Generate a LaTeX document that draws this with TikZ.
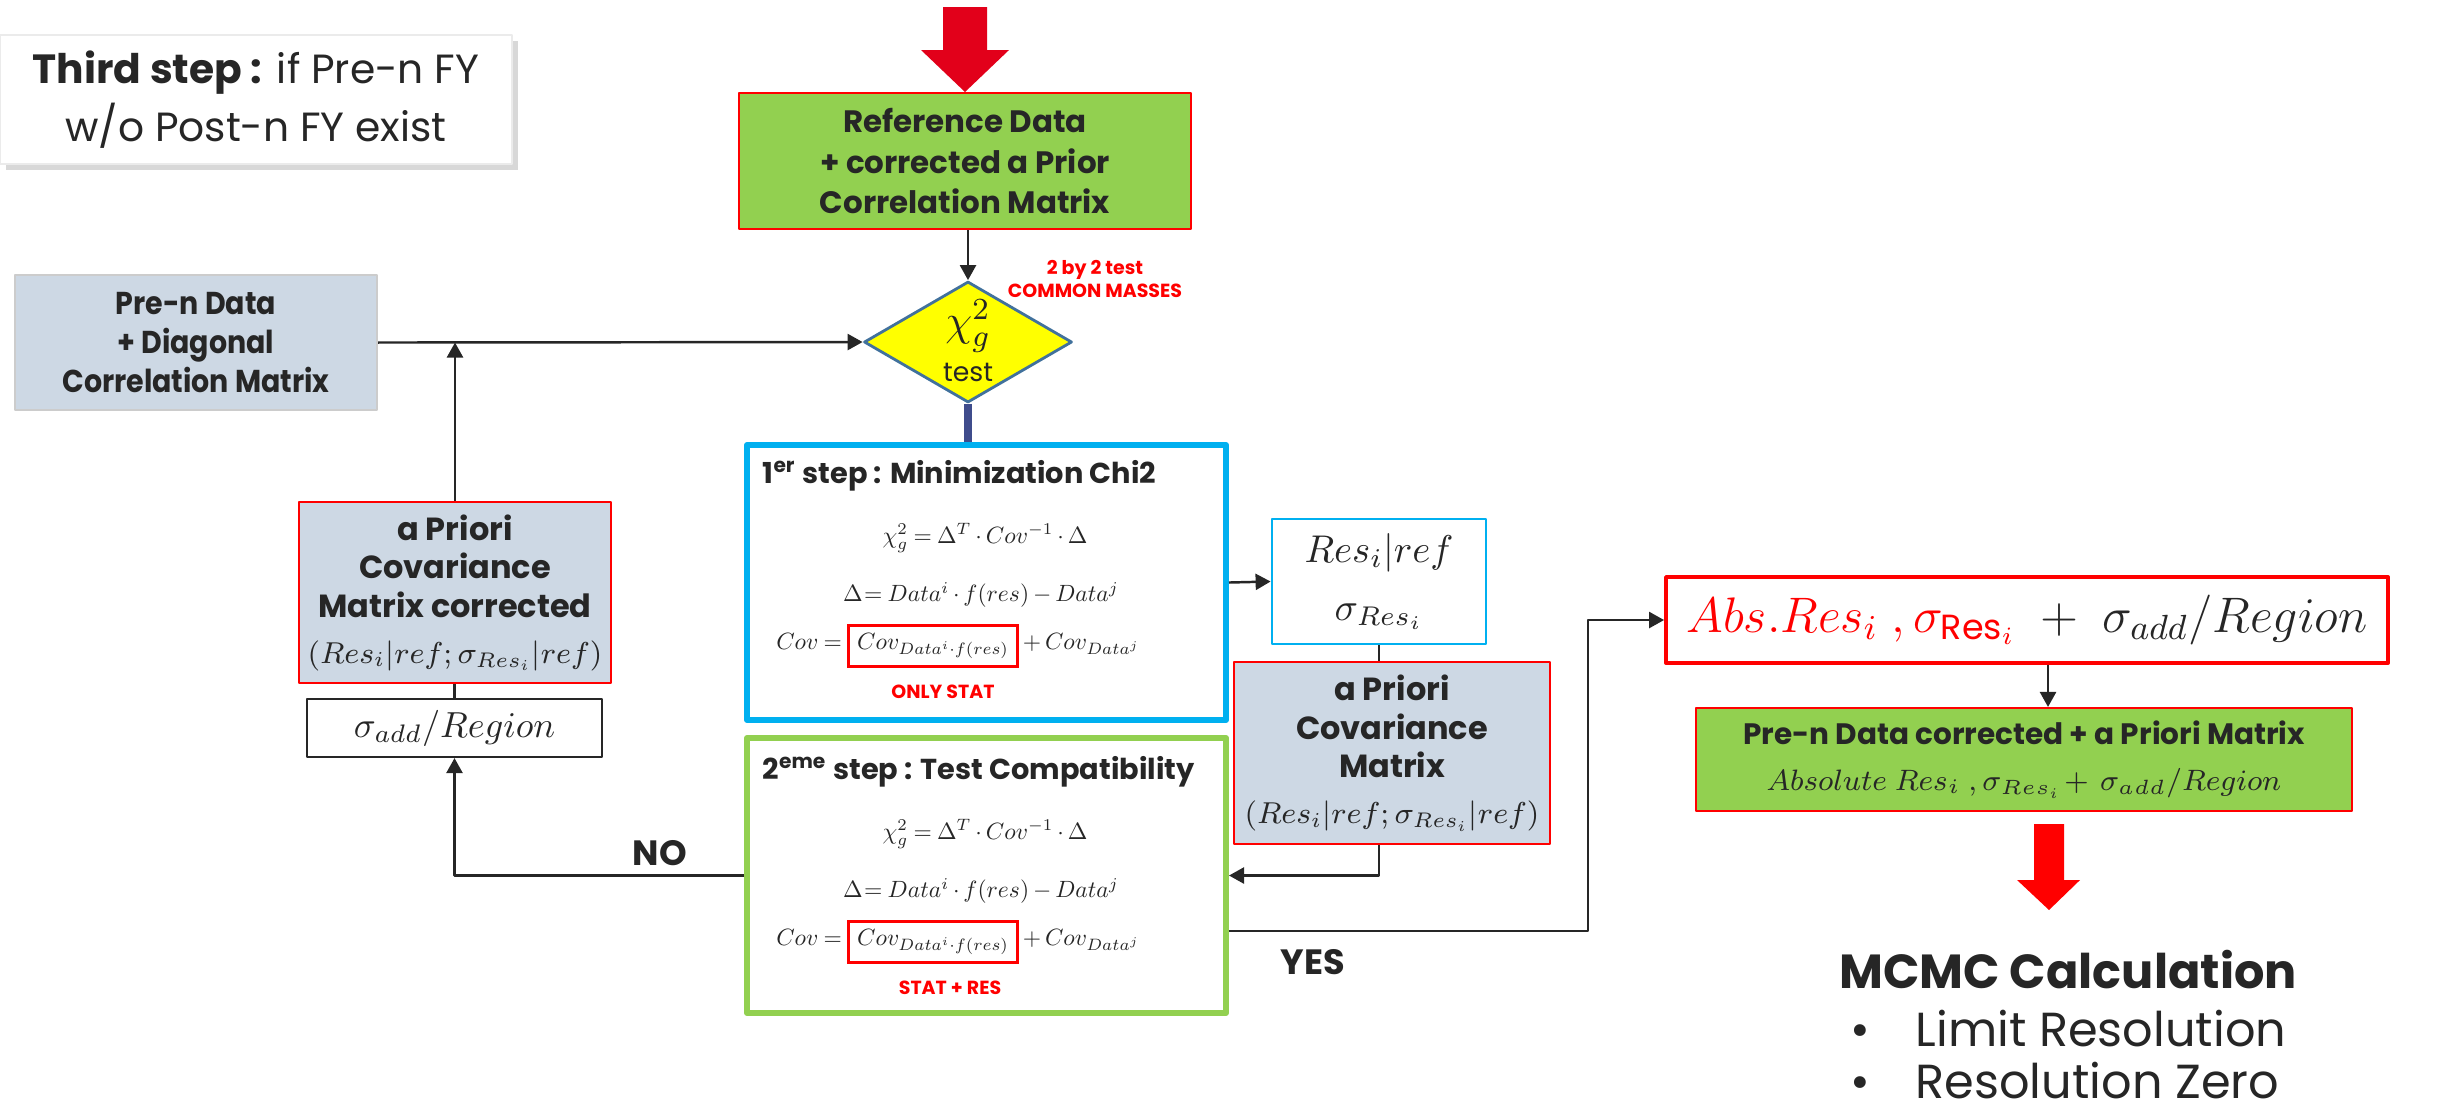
\documentclass[tikz,border=0pt]{standalone}
\usepackage{fix-cm}
\usepackage{amsmath}
\usepackage{fontspec}
\setmainfont{Poppins}
\newfontfamily\narrowfont{Poppins}[FakeStretch=0.9]
\usepackage{tikz}
\usetikzlibrary{arrows.meta,calc,positioning,shapes.geometric,shadows}
\definecolor{chigreen}{HTML}{92D050}
\definecolor{chigray}{HTML}{CDD8E4}
\definecolor{chired}{HTML}{FF0000}
\definecolor{chicrimson}{HTML}{E2001A}
\definecolor{chicyan}{HTML}{00B0F0}
\definecolor{chiyellow}{HTML}{FFFF00}
\definecolor{chisteel}{HTML}{41719C}
\definecolor{chinavy}{HTML}{3F4C8C}
\definecolor{chiink}{HTML}{262626}
\setlength{\fboxrule}{1.2pt}
\setlength{\fboxsep}{3pt}

\begin{document}
\begin{tikzpicture}[line join=round,
  >={Triangle[length=1.5mm,width=1.6mm]},
  every node/.style={inner sep=0pt, text=chiink},
  link/.style={draw=chiink, line width=0.7pt},
  greenbox/.style={fill=chigreen, draw=chired, line width=0.8pt, align=center},
  graybox/.style={fill=chigray, align=center},
  stepbox/.style={line width=1.7pt, minimum width=4.79cm, minimum height=2.75cm},
  boldtext/.style={font=\fontsize{9.1}{11}\selectfont\bfseries, align=center},
  steptitle/.style={font=\fontsize{8.2}{10}\selectfont\bfseries},
  formula/.style={font=\fontsize{10}{12}\selectfont, scale=0.67},
  rednote/.style={text=chired, font=\fontsize{5.4}{6.4}\selectfont\bfseries, align=center},
  answer/.style={font=\fontsize{10}{12}\selectfont\bfseries},
  mcmcfont/.style={font=\fontsize{13.6}{16}\selectfont}]
  \path[use as bounding box] (0,0) rectangle (24.46,-11.10);
  % 1 cm = 100 px of the slide; y grows downwards
  \node[draw=black!8, fill=white,
    drop shadow={shadow xshift=0.6mm, shadow yshift=-0.6mm, fill=black!30},
    minimum width=5.12cm, minimum height=1.29cm, align=center,
    font=\fontsize{11.6}{16.3}\selectfont] (title) at (2.56,-0.995)
    {\textbf{Third step :} if Pre-n FY\\w/o Post-n FY exist};
  \fill[chicrimson] (9.43,-0.07) -- (9.87,-0.07) -- (9.87,-0.50) -- (10.09,-0.50)
    -- (9.65,-0.92) -- (9.21,-0.50) -- (9.43,-0.50) -- cycle;
  \node[greenbox, font=\fontsize{8.8}{11.4}\selectfont\bfseries,
    minimum width=4.52cm, minimum height=1.36cm] (refdata)
    at (9.65,-1.61) {Reference Data\\+ corrected a Prior\\Correlation Matrix};
  \node[diamond, draw=chisteel, fill=chiyellow, line width=0.8pt,
    minimum width=2.08cm, minimum height=1.21cm] (chitest) at (9.68,-3.42) {};
  \node[font=\fontsize{12.5}{12}\selectfont] (chisym) at (9.68,-3.26) {$\chi^2_g$};
  \node[font=\fontsize{7.6}{9}\selectfont] (chiword) at (9.68,-3.72) {test};
  \node[rednote] (masses) at (10.95,-2.79) {2 by 2 test\\COMMON MASSES};
  \node[graybox, draw=black!20, line width=0.6pt, minimum width=3.62cm,
    minimum height=1.35cm, font=\fontsize{9}{11}\narrowfont\bfseries] (pren)
    at (1.96,-3.425) {Pre-n Data\\+ Diagonal\\Correlation Matrix};
  \draw[link,->] (refdata.south -| chitest.north) -- (chitest.north);
  \draw[link,->] (pren.east) -- (chitest.west);
  % the two steps
  \node[stepbox, draw=chicyan] (step1) at (9.865,-5.825) {};
  \node[stepbox, draw=chigreen] (step2) at (9.865,-8.755) {};
  \draw[chinavy, line width=2.3pt] (chitest.south) -- (chitest.south |- step1.north);
  \foreach \s/\dy/\sup/\ttl/\note/\nx in
    {1/0/er/Minimization Chi2/ONLY STAT/9.43,
     2/-2.96/eme/Test Compatibility/STAT + RES/9.50} {
    \node[steptitle, anchor=base west] (title\s) at (7.62,-4.83+\dy)
      {\s\textsuperscript{\sup} step : \ttl};
    \node[formula] (chi\s) at (9.85,-5.38+\dy)
      {$\medmuskip=3mu\relax\thickmuskip=4mu\relax
        \chi^2_g = \Delta^T\cdot Cov^{-1}\cdot\Delta$};
    \node[formula] (delta\s) at (9.81,-5.95+\dy)
      {$\medmuskip=3mu\relax\thickmuskip=4mu\relax
        \Delta\!= Data^i\cdot f(res) - Data^j$};
    \node[formula] (cov\s) at (9.58,-6.46+\dy)
      {$\medmuskip=3mu\relax\thickmuskip=4mu\relax
        Cov = \fcolorbox{chired}{white}{$Cov_{Data^i\cdot f(res)}$} + Cov_{Data^j}$};
    \node[rednote] (note\s) at (\nx,-6.92+\dy) {\note};
  }
  % resolution found by step 1
  \node[draw=chicyan, line width=0.8pt, fill=white, align=center,
    font=\fontsize{11}{16.5}\selectfont,
    minimum width=2.14cm, minimum height=1.25cm] (resref) at (13.79,-5.815)
    {$Res_i|ref$\\$\sigma_{Res_i}$};
  \node[graybox, draw=chired, line width=0.6pt, minimum width=3.16cm,
    minimum height=1.82cm, boldtext] (aprior) at (13.92,-7.53)
    {a Priori\\Covariance\\Matrix\\[2pt]
     {\fontsize{8.6}{10}\selectfont\mdseries$(Res_i|ref;\sigma_{Res_i}|ref)$}};
  \draw[link,->] (step1.east) -- (resref.west);
  \draw[link] (resref.south) -- (resref.south |- aprior.north);
  \draw[link,->] (resref.south |- aprior.south) |- (step2.east);
  % NO branch, back to the diagonal input
  \node[graybox, draw=chired, line width=0.6pt, minimum width=3.12cm,
    minimum height=1.81cm, boldtext] (apcorr) at (4.55,-5.925)
    {a Priori\\Covariance\\Matrix corrected\\[2pt]
     {\fontsize{8.6}{10}\selectfont\mdseries$(Res_i|ref;\sigma_{Res_i}|ref)$}};
  \node[draw=chiink, line width=0.6pt, fill=white, minimum width=2.95cm,
    minimum height=0.58cm, font=\fontsize{10.3}{12}\selectfont] (sigadd)
    at (4.545,-7.28) {$\sigma_{add}/Region$};
  \draw[link,->] (step2.west) -| (sigadd.south);
  \draw[link] (sigadd.north) -- (sigadd.north |- apcorr.south);
  \draw[link,->] (apcorr.north) -- (apcorr.north |- pren.east);
  \node[answer] (no) at (6.60,-8.53) {NO};
  % YES branch
  \node[draw=chired, line width=1.1pt, fill=white, minimum width=7.22cm,
    minimum height=0.86cm, font=\fontsize{14.2}{16}\selectfont] (absres)
    at (20.27,-6.20)
    {$\color{chired}Abs.Res_i\ ,\sigma_{\mathrm{Res}_i}\ \color{chiink}+\ \sigma_{add}/Region$};
  \coordinate (yesturn) at (15.88,-9.31);
  \coordinate (mcx) at (20.48,0);
  \draw[link,->] (step2.east |- yesturn) -- (yesturn) |- (absres.west);
  \node[answer] (yes) at (13.13,-9.62) {YES};
  \node[greenbox, line width=0.6pt, minimum width=6.56cm, minimum height=1.03cm]
    (precorr) at (20.24,-7.595)
    {{\fontsize{8.4}{11}\selectfont\bfseries Pre-n Data corrected + a Priori Matrix}\\[1pt]
     {\fontsize{8.4}{10}\selectfont
      $\medmuskip=2mu\relax Absolute\ Res_i\ ,\sigma_{Res_i} +\ \sigma_{add}/Region$}};
  \draw[link,->] (absres.south -| mcx) -- (precorr.north -| mcx);
  \fill[chired] (20.34,-8.24) -- (20.64,-8.24) -- (20.64,-8.80) -- (20.80,-8.80)
    -- (20.49,-9.10) -- (20.17,-8.80) -- (20.34,-8.80) -- cycle;
  \node[anchor=base, font=\fontsize{13.6}{16}\selectfont\bfseries] (mcmc)
    at (20.68,-9.88) {MCMC Calculation};
  \foreach \y/\txt in {-10.46/Limit Resolution, -10.98/Resolution Zero} {
    \node[anchor=base, mcmcfont] at (18.60,\y) {\textbullet};
    \node[anchor=base west, mcmcfont] at (19.15,\y) {\txt};
  }
\end{tikzpicture}
\end{document}
